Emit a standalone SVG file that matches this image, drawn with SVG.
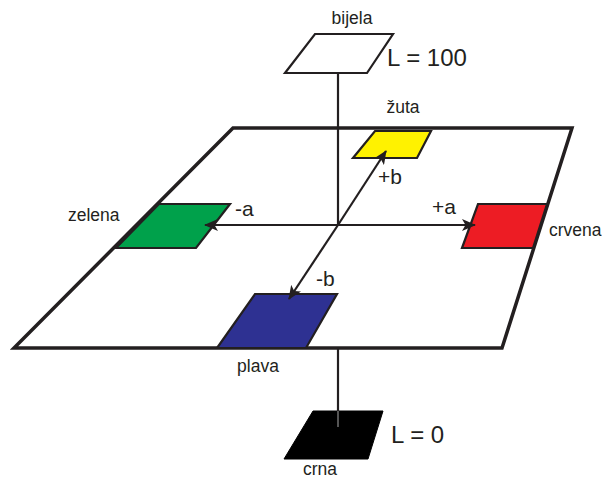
<svg xmlns="http://www.w3.org/2000/svg" width="602" height="482" viewBox="0 0 602 482">
<style>
.lbl{font-family:"Liberation Sans",Arial,sans-serif;font-size:17.5px;fill:#231f20}
.ax{font-family:"Liberation Sans",Arial,sans-serif;font-size:21px;fill:#231f20}
.big{font-family:"Liberation Sans",Arial,sans-serif;font-size:24px;fill:#231f20}
.sw{stroke:#231f20;stroke-width:2.2;stroke-linejoin:miter}
.ln{stroke:#231f20;stroke-width:2.2;fill:none}
</style>
<defs>
<marker id="ah" viewBox="0 0 14 12" refX="13" refY="6" markerWidth="14" markerHeight="12" markerUnits="userSpaceOnUse" orient="auto">
<path d="M0,0 L14,6 L0,12 L3.5,6 Z" fill="#231f20"/>
</marker>
</defs>
<rect width="602" height="482" fill="#fff"/>
<g id="plane">
<polygon points="233,128 572,128 502,348 14,348" fill="#fff" stroke="#231f20" stroke-width="3.5" stroke-linejoin="miter"/>
</g>
<g id="bijela">
<polygon class="sw" points="315,34 393,34 367,73 285,73" fill="#fff"/>
<text class="lbl" x="352" y="24" text-anchor="middle">bijela</text>
<text class="big" x="387" y="66">L = 100</text>
</g>
<g id="zuta">
<polygon class="sw" points="375,131 431,131 417,158 353,158" fill="#fff200"/>
<text class="lbl" x="403" y="113" text-anchor="middle">žuta</text>
</g>
<g id="zelena">
<polygon class="sw" points="159,204 230,204 196,248 116,248" fill="#00a14b"/>
<text class="lbl" x="68" y="221">zelena</text>
</g>
<g id="crvena">
<polygon class="sw" points="478,204 547,204 533,248 462,248" fill="#ed1c24"/>
<text class="lbl" x="549" y="236">crvena</text>
</g>
<g id="plava">
<polygon class="sw" points="255,294 337,294 306,348 217,348" fill="#2e3192"/>
<text class="lbl" x="258" y="372" text-anchor="middle">plava</text>
</g>
<g id="crna">
<polygon points="313,411 383,411 368,459 284,459" fill="#000" stroke="#000" stroke-width="1"/>
<line x1="338" y1="411" x2="338" y2="427" stroke="#555" stroke-width="2"/>
<text class="lbl" x="320" y="475" text-anchor="middle">crna</text>
<text class="big" x="391" y="443">L = 0</text>
</g>
<g id="connectors">
<line class="ln" x1="338" y1="74" x2="338" y2="225"/>
<line class="ln" x1="338" y1="349" x2="338" y2="411"/>
<line class="ln" x1="338" y1="225" x2="205" y2="225" marker-end="url(#ah)"/>
<line class="ln" x1="338" y1="225" x2="475" y2="225" marker-end="url(#ah)"/>
<line class="ln" x1="338" y1="225" x2="386" y2="151" marker-end="url(#ah)"/>
<line class="ln" x1="338" y1="225" x2="289" y2="299" marker-end="url(#ah)"/>
</g>
<g id="axis-labels">
<text class="ax" x="378" y="184">+b</text>
<text class="ax" x="235" y="216">-a</text>
<text class="ax" x="432" y="214">+a</text>
<text class="ax" x="316" y="286">-b</text>
</g>
</svg>
